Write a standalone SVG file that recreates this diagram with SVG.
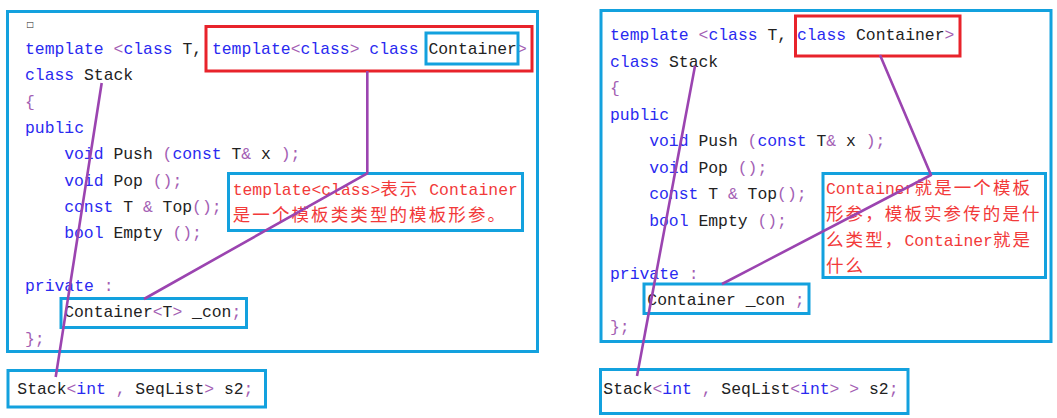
<svg xmlns="http://www.w3.org/2000/svg" width="1057" height="418" viewBox="0 0 1057 418">
<style>
.bg{fill:#ffffff}
.frame{fill:none;stroke:#13a1de;stroke-width:3}
.red{fill:none;stroke:#e8232b;stroke-width:3}
.code{font-family:"Liberation Mono","DejaVu Sans Mono",monospace;font-size:16.4px;white-space:pre;fill:#222222}
.k{fill:#2a2af0}
.p{fill:#a45fb4}
.n{fill:#222222}
.note{font-family:"Liberation Mono","DejaVu Sans Mono",monospace;font-size:16.4px;white-space:pre;fill:#f23a3a}
.cj{font-family:"Noto Sans CJK SC",sans-serif;font-size:17.5px;letter-spacing:2.1px}
.conn{fill:none;stroke:#9b44b0;stroke-width:2.6;stroke-linejoin:round}
</style>
<rect class="bg" x="0" y="0" width="1057" height="418"/>

<g id="left-class">
<rect class="frame" x="7.5" y="11.5" width="530" height="340"/>
<text x="26.5" y="27" font-family="DejaVu Sans, sans-serif" font-size="8" fill="#222">□</text>
<text class="code" x="25" y="54"><tspan class="k">template</tspan> <tspan class="p">&lt;</tspan><tspan class="k">class</tspan> T, <tspan class="k">template</tspan><tspan class="p">&lt;</tspan><tspan class="k">class</tspan><tspan class="p">&gt;</tspan> <tspan class="k">class</tspan> Container<tspan class="p">&gt;</tspan></text>
<text class="code" x="25" y="80.3"><tspan class="k">class</tspan> Stack</text>
<text class="code" x="25" y="106.7"><tspan class="p">{</tspan></text>
<text class="code" x="25" y="133"><tspan class="k">public</tspan></text>
<text class="code" x="64.2" y="159.3"><tspan class="k">void</tspan> Push <tspan class="p">(</tspan><tspan class="k">const</tspan> T<tspan class="p">&amp;</tspan> x <tspan class="p">);</tspan></text>
<text class="code" x="64.2" y="185.7"><tspan class="k">void</tspan> Pop <tspan class="p">();</tspan></text>
<text class="code" x="64.2" y="212"><tspan class="k">const</tspan> T <tspan class="p">&amp;</tspan> Top<tspan class="p">();</tspan></text>
<text class="code" x="64.2" y="238.3"><tspan class="k">bool</tspan> Empty <tspan class="p">();</tspan></text>
<text class="code" x="25" y="291"><tspan class="k">private</tspan> <tspan class="p">:</tspan></text>
<text class="code" x="25" y="343.7"><tspan class="p">};</tspan></text>
</g>
<g id="left-template-param">
<rect class="red" x="206" y="26.5" width="326" height="44.5"/>
</g>
<g id="left-container-name">
<rect class="frame" x="426" y="33" width="92" height="31"/>
</g>
<g id="left-member">
<rect class="frame" x="61" y="298.5" width="185.5" height="29"/>
<text class="code" x="64.2" y="317.3">Container<tspan class="p">&lt;</tspan>T<tspan class="p">&gt;</tspan> _con<tspan class="p">;</tspan></text>
</g>
<g id="left-note">
<rect class="frame" x="228.5" y="173.5" width="294" height="57"/>
<text class="note" x="232.7" y="195">template&lt;class&gt;<tspan class="cj">表示</tspan> Container</text>
<text class="note" x="232.7" y="220.7"><tspan class="cj">是一个模板类类型的模板形参。</tspan></text>
</g>
<g id="left-instance">
<rect class="frame" x="8" y="370.5" width="257.5" height="36.5"/>
<text class="code" x="17.3" y="394">Stack<tspan class="p">&lt;</tspan><tspan class="k">int</tspan> <tspan class="p">,</tspan> SeqList<tspan class="p">&gt;</tspan> s2<tspan class="p">;</tspan></text>
</g>

<g id="right-class">
<rect class="frame" x="601" y="10.5" width="450" height="331"/>
<text class="code" x="610" y="40"><tspan class="k">template</tspan> <tspan class="p">&lt;</tspan><tspan class="k">class</tspan> T, <tspan class="k">class</tspan> Container<tspan class="p">&gt;</tspan></text>
<text class="code" x="610" y="66.5"><tspan class="k">class</tspan> Stack</text>
<text class="code" x="610" y="93"><tspan class="p">{</tspan></text>
<text class="code" x="610" y="119.5"><tspan class="k">public</tspan></text>
<text class="code" x="649.2" y="146"><tspan class="k">void</tspan> Push <tspan class="p">(</tspan><tspan class="k">const</tspan> T<tspan class="p">&amp;</tspan> x <tspan class="p">);</tspan></text>
<text class="code" x="649.2" y="172.5"><tspan class="k">void</tspan> Pop <tspan class="p">();</tspan></text>
<text class="code" x="649.2" y="199"><tspan class="k">const</tspan> T <tspan class="p">&amp;</tspan> Top<tspan class="p">();</tspan></text>
<text class="code" x="649.2" y="225.5"><tspan class="k">bool</tspan> Empty <tspan class="p">();</tspan></text>
<text class="code" x="610" y="278.5"><tspan class="k">private</tspan> <tspan class="p">:</tspan></text>
<text class="code" x="610" y="331.5"><tspan class="p">};</tspan></text>
</g>
<g id="right-template-param">
<rect class="red" x="795.5" y="16" width="164.5" height="40"/>
</g>
<g id="right-member">
<rect class="frame" x="644" y="284" width="165" height="29.5"/>
<text class="code" x="647.3" y="305">Container _con <tspan class="p">;</tspan></text>
</g>
<g id="right-note">
<rect class="frame" x="823" y="173.5" width="222.5" height="104"/>
<text class="note" x="826" y="194">Container<tspan class="cj">就是一个模板</tspan></text>
<text class="note" x="826" y="220"><tspan class="cj">形参，模板实参传的是什</tspan></text>
<text class="note" x="826" y="246"><tspan class="cj">么类型，</tspan>Container<tspan class="cj">就是</tspan></text>
<text class="note" x="826" y="272"><tspan class="cj">什么</tspan></text>
</g>
<g id="right-instance">
<rect class="frame" x="600.5" y="369.5" width="307.5" height="44"/>
<text class="code" x="603.3" y="394">Stack<tspan class="p">&lt;</tspan><tspan class="k">int</tspan> <tspan class="p">,</tspan> SeqList<tspan class="p">&lt;</tspan><tspan class="k">int</tspan><tspan class="p">&gt;</tspan> <tspan class="p">&gt;</tspan> s2<tspan class="p">;</tspan></text>
</g>

<g id="connectors">
<polyline class="conn" points="101.7,83 55.7,377"/>
<polyline class="conn" points="367.3,71 367.3,173.3 144,299"/>
<polyline class="conn" points="695,66 637,376"/>
<polyline class="conn" points="880,55 931,175 722,284"/>
</g>
</svg>
